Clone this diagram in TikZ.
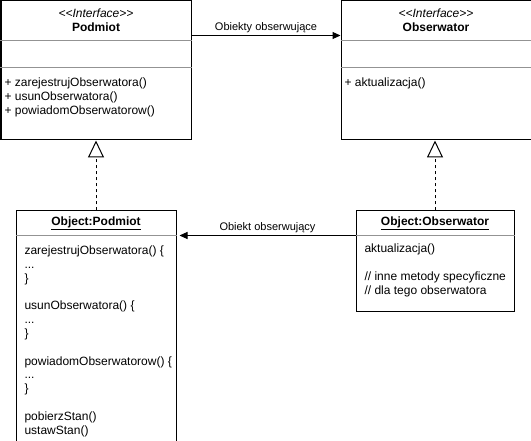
\documentclass[tikz,border=0pt]{standalone}
\usepackage{fontspec}
\setmainfont{Liberation Sans}
\usetikzlibrary{arrows.meta,positioning,calc}

\begin{document}
\begin{tikzpicture}
[x=1bp,y=-1bp,line width=1bp,
      font=\fontsize{12bp}{13.8bp}\selectfont,
      box/.style={draw,inner sep=0pt,anchor=north west},
      rule/.style={draw=gray!85},
      txt/.style={inner sep=0pt,align=left,anchor=north west},
      lbl/.style={font=\fontsize{11bp}{13bp}\selectfont,inner sep=0pt},
      impl/.style={dash pattern=on 3bp off 3bp,
        -{Triangle[open,length=17bp,width=16bp]}},
      assoc/.style={-{Triangle[length=8bp,width=7bp]}}]
\useasboundingbox (0,0) rectangle (531,441);

% interfaces
\node[box,minimum width=190bp,minimum height=139bp] (pod) at (0.5,0.5) {};
\node[box,minimum width=190bp,minimum height=139bp] (obs) at (340.5,0.5) {};
\foreach \b/\n in {pod/Podmiot,obs/Obserwator}{
  \node at ($(\b.north)+(0,13)$) {\textit{<\kern0pt<Interface>\kern0pt>}};
  \node at ($(\b.north)+(0,27)$) {\textbf{\n}};
  \draw[rule] ($(\b.north west)+(0,40)$) -- ($(\b.north east)+(0,40)$);
  \draw[rule] ($(\b.north west)+(0,67)$) -- ($(\b.north east)+(0,67)$);
}
\node[txt] (pod ops) at ($(pod.north west)+(3.5,77)$)
  {+ zarejestrujObserwatora()\\+ usunObserwatora()\\+ powiadomObserwatorow()};
\node[txt] (obs ops) at ($(obs.north west)+(3.5,77)$) {+ aktualizacja()};

% objects
\node[box,minimum width=160bp,minimum height=230bp] (opod) at (15.5,210.5) {};
\node[box,minimum width=158bp,minimum height=100bp] (oobs) at (355.5,210.5) {};
\node at ($(opod.north)+(0,13)$) {\underline{\textbf{Object:Podmiot}}};
\node at ($(oobs.north)+(0,13)$) {\underline{\textbf{Object:Obserwator}}};
\draw[rule] ($(opod.north west)+(0,25)$) -- ($(opod.north east)+(0,25)$);
\draw[rule] ($(oobs.north west)+(0,25)$) -- ($(oobs.north east)+(0,25)$);
\node[txt] (opod ops) at ($(opod.north west)+(8.5,35)$)
  {zarejestrujObserwatora() \{\\...\\\}\\[13.8bp]
   usunObserwatora() \{\\...\\\}\\[13.8bp]
   powiadomObserwatorow() \{\\...\\\}\\[13.8bp]
   pobierzStan()\\ustawStan()};
\node[txt] (oobs ops) at ($(oobs.north west)+(8.5,33)$)
  {aktualizacja()\\[13.8bp]// inne metody specyficzne\\// dla tego obserwatora};

% connectors
\draw[assoc] ($(pod.north east)+(0,35)$) -- ($(obs.north west)+(0,35)$)
  node[lbl,midway,above=2bp] {Obiekty obserwujące};
\draw[assoc] ($(oobs.north west)+(0,25)$) -- ($(opod.north east)+(3,25)$)
  node[lbl,midway,above=2bp] {Obiekt obserwujący};
\draw[impl] (opod.north) -- (opod.north |- pod.south);
\draw[impl] (oobs.north) -- (oobs.north |- obs.south);
\end{tikzpicture}
\end{document}
